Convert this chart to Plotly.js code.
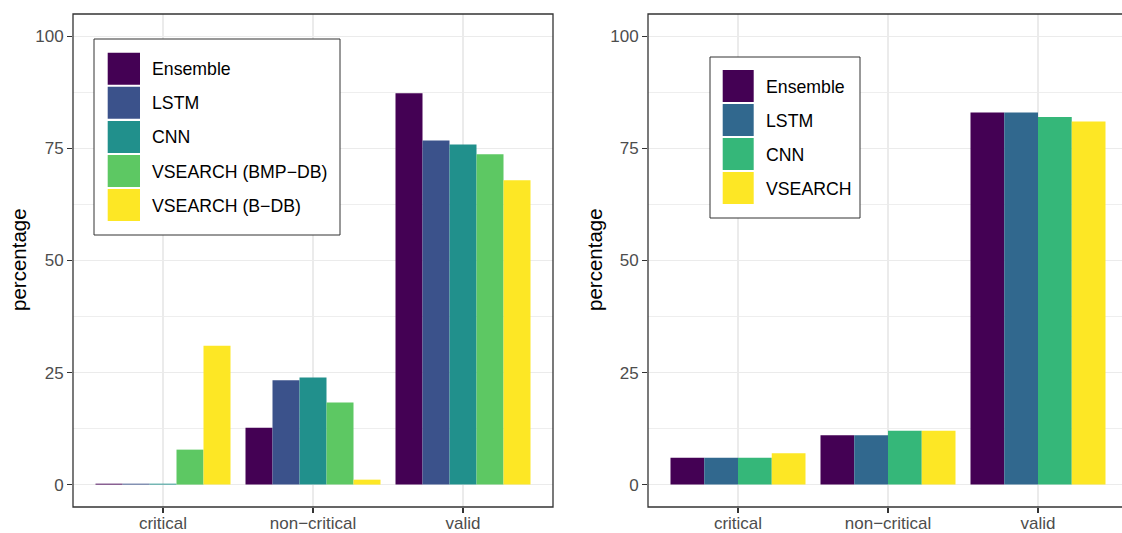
<!DOCTYPE html>
<html>
<head>
<meta charset="utf-8">
<script src="https://cdn.plot.ly/plotly-3.0.1.min.js"></script>
<style>html,body{margin:0;padding:0;background:#fff;}#chart{width:1122px;height:533px;}</style>
</head>
<body>
<div id="chart"></div>
<script>
// ---- data ----
var categories = ["critical", "non\u2212critical", "valid"];

var leftSeries = ["Ensemble", "LSTM", "CNN", "VSEARCH (BMP\u2212DB)", "VSEARCH (B\u2212DB)"];
var leftColors = ["#440154", "#3B528B", "#21908C", "#5DC863", "#FDE725"];
var leftEnsemble = [0.2, 12.7, 87.3];
var leftLSTM     = [0.2, 23.3, 76.8];
var leftCNN      = [0.2, 23.9, 75.9];
var leftBMPDB    = [7.8, 18.3, 73.7];
var leftBDB      = [31.0, 1.1, 67.9];
var leftValues = [leftEnsemble, leftLSTM, leftCNN, leftBMPDB, leftBDB];

var rightSeries = ["Ensemble", "LSTM", "CNN", "VSEARCH"];
var rightColors = ["#440154", "#31688E", "#35B779", "#FDE725"];
var rightEnsemble = [6, 11, 83];
var rightLSTM     = [6, 11, 83];
var rightCNN      = [6, 12, 82];
var rightVSEARCH  = [7, 12, 81];
var rightValues = [rightEnsemble, rightLSTM, rightCNN, rightVSEARCH];

var yTickVals = [0, 25, 50, 75, 100];

// ---- helpers (pixel -> paper) ----
var W = 1122, H = 533;
function px(x){ return x / W; }
function py(y){ return 1 - y / H; }

var traces = [];
leftSeries.forEach(function(name, i){
  traces.push({type:"bar", name:name, x:categories, y:leftValues[i],
    marker:{color:leftColors[i], line:{width:0}}, xaxis:"x", yaxis:"y", showlegend:false, hoverinfo:"x+y+name"});
});
rightSeries.forEach(function(name, i){
  traces.push({type:"bar", name:name, x:categories, y:rightValues[i],
    marker:{color:rightColors[i], line:{width:0}}, xaxis:"x2", yaxis:"y2", showlegend:false, hoverinfo:"x+y+name"});
});

var font = "Liberation Sans, Arial, Helvetica, sans-serif";
function xax(domain, range){
  return {domain:domain, range:range, type:"category", showgrid:true, gridcolor:"#ebebeb", gridwidth:1.8,
    ticks:"outside", ticklen:5, tickwidth:1.1, tickcolor:"#333333", showline:false, zeroline:false,
    ticklabelstandoff:-4,
    tickfont:{family:font, size:17, color:"#4d4d4d"}, fixedrange:true};
}
function yax(anchor){
  return {domain:[py(507), py(14)], range:[-5, 105], tickvals:yTickVals, ticktext:yTickVals.map(String),
    showgrid:true, gridcolor:"#ebebeb", gridwidth:1.8, zeroline:false, showline:false,
    minor:{showgrid:true, tickvals:[12.5, 37.5, 62.5, 87.5], gridcolor:"#eeeeee", gridwidth:1},
    ticks:"outside", ticklen:5, tickwidth:1.1, tickcolor:"#333333", anchor:anchor,
    tickfont:{family:font, size:17, color:"#4d4d4d"}, fixedrange:true};
}

var shapes = [
  {type:"rect", xref:"paper", yref:"paper", x0:px(73), x1:px(553), y0:py(507), y1:py(14),
   line:{color:"#333333", width:1.3}, fillcolor:"rgba(0,0,0,0)", layer:"above"},
  {type:"rect", xref:"paper", yref:"paper", x0:px(648), x1:1.02, y0:py(507), y1:py(14),
   line:{color:"#333333", width:1.3}, fillcolor:"rgba(0,0,0,0)", layer:"above"},
  // legend boxes
  {type:"rect", xref:"paper", yref:"paper", x0:px(94), x1:px(340), y0:py(235), y1:py(39),
   line:{color:"#333333", width:1}, fillcolor:"#ffffff", layer:"above"},
  {type:"rect", xref:"paper", yref:"paper", x0:px(710), x1:px(860), y0:py(218), y1:py(57),
   line:{color:"#333333", width:1}, fillcolor:"#ffffff", layer:"above"}
];
var annotations = [
  {xref:"paper", yref:"paper", x:px(18), y:py(260), text:"percentage", textangle:-90, showarrow:false,
   xanchor:"center", yanchor:"middle", font:{family:font, size:20.5, color:"#000"}},
  {xref:"paper", yref:"paper", x:px(594), y:py(260), text:"percentage", textangle:-90, showarrow:false,
   xanchor:"center", yanchor:"middle", font:{family:font, size:20.5, color:"#000"}}
];
leftSeries.forEach(function(name, i){
  var top = 52.7 + i * 34.1;
  shapes.push({type:"rect", xref:"paper", yref:"paper", x0:px(107.7), x1:px(140), y0:py(top + 32), y1:py(top),
    line:{width:0}, fillcolor:leftColors[i], layer:"above"});
  annotations.push({xref:"paper", yref:"paper", x:px(150), y:py(top + 16.5), text:name, showarrow:false,
    xanchor:"left", yanchor:"middle", font:{family:font, size:17.7, color:"#000"}});
});
rightSeries.forEach(function(name, i){
  var top = 70 + i * 34;
  shapes.push({type:"rect", xref:"paper", yref:"paper", x0:px(722.7), x1:px(753.7), y0:py(top + 32), y1:py(top),
    line:{width:0}, fillcolor:rightColors[i], layer:"above"});
  annotations.push({xref:"paper", yref:"paper", x:px(764), y:py(top + 16.5), text:name, showarrow:false,
    xanchor:"left", yanchor:"middle", font:{family:font, size:17.7, color:"#000"}});
});

var layout = {
  width:W, height:H, margin:{l:0, r:0, t:0, b:0}, paper_bgcolor:"#ffffff", plot_bgcolor:"#ffffff",
  barmode:"group", bargap:0.1, bargroupgap:0, showlegend:false,
  xaxis: xax([px(73), px(553)], [-0.6, 2.6]),
  yaxis: yax("x"),
  xaxis2: xax([px(648), 1], [-0.6, 2.56]),
  yaxis2: yax("x2"),
  shapes: shapes, annotations: annotations,
  font:{family:font}
};
layout.xaxis.anchor = "y";
layout.xaxis2.anchor = "y2";

Plotly.newPlot("chart", traces, layout, {displayModeBar:false, staticPlot:true});
</script>
</body>
</html>
